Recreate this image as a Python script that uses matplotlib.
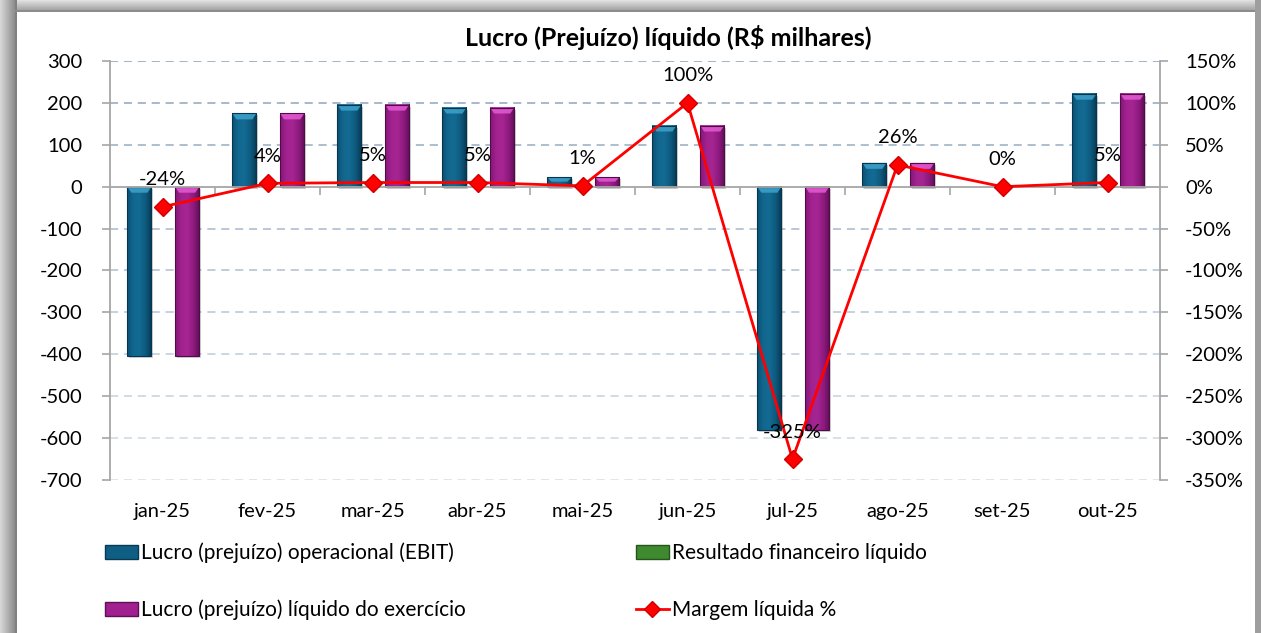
import numpy as np
import matplotlib
matplotlib.use("Agg")
import matplotlib.pyplot as plt
from matplotlib.colors import LinearSegmentedColormap, to_rgb
from matplotlib.patches import Patch, Polygon, Rectangle
from matplotlib.lines import Line2D
from matplotlib.ticker import PercentFormatter, MultipleLocator
import matplotlib.transforms as mtransforms

plt.rcParams['font.family'] = ['Lato', 'DejaVu Sans']
plt.rcParams['axes.unicode_minus'] = False

# --- dados (R$ milhares) ---
meses = ["jan-25", "fev-25", "mar-25", "abr-25", "mai-25",
         "jun-25", "jul-25", "ago-25", "set-25", "out-25"]
ebit = [-403, 175, 196, 189, 22, 146, -580, 57, 0, 222]
resultado_fin = [0, 0, 0, 0, 0, 0, 0, 0, 0, 0]
lucro_liq = [-403, 175, 196, 189, 22, 146, -580, 57, 0, 222]
margem = [-0.24, 0.04, 0.05, 0.05, 0.01, 1.00, -3.25, 0.26, 0.00, 0.05]

nomes = ["Lucro (prejuízo) operacional (EBIT)",
         "Resultado financeiro líquido",
         "Lucro (prejuízo) líquido do exercício",
         "Margem líquida %"]

W, H = 1261, 633
fig = plt.figure(figsize=(W / 100, H / 100), dpi=100)
fs = 14.5

# moldura cinza com sombra
bg = np.ones((H, W))
xs = np.arange(W)
ys = np.arange(H)
left = xs < 15
bg[:, left] = np.linspace(0.84, 0.56, left.sum())[None, :]
top = ys < 12
bg[top, 15:] = np.minimum(bg[top, 15:], np.linspace(0.88, 0.60, top.sum())[:, None])
bg[:, 1255:] = 0.62
bg[:, 15:17] = np.minimum(bg[:, 15:17], 0.50)
bg[10:12, 15:1255] = 0.55
ax_bg = fig.add_axes([0, 0, 1, 1], zorder=-10)
ax_bg.imshow(bg, cmap="gray", vmin=0, vmax=1, aspect="auto", interpolation="nearest")
ax_bg.axis("off")

ax = fig.add_axes([110 / W, 1 - 480 / H, 1050 / W, 419 / H])
ax.set_facecolor("none")
ax2 = ax.twinx()
ax2.set_zorder(ax.get_zorder() + 1)
ax2.patch.set_visible(False)

ylo, yhi = -700, 300
ax.set_xlim(-0.5, 9.5)
ax.set_ylim(ylo, yhi)
ax2.set_ylim(-3.5, 1.5)

# linhas de grade tracejadas, mais escuras em cima
c_top = np.array(to_rgb("#98aec4"))
c_bot = np.array(to_rgb("#dde3ea"))
for v in range(ylo, yhi + 1, 100):
    if v == 0:
        continue
    t = (yhi - v) / (yhi - ylo)
    ax.axhline(v, color=c_top * (1 - t) + c_bot * t, lw=1.3,
               dashes=(4.5, 3.2), zorder=0.5)

# barras com sombreado "cilíndrico"
px_y = (yhi - ylo) / 419.0
px_x = 10 / 1050.0
bw = 0.23
series = [
    (ebit, -0.22, ["#0b5173", "#12678f", "#136a93", "#0e5a7f", "#073a54"], "#3ea2cb", "#063550"),
    (resultado_fin, 0.0, ["#2c6b22", "#4a9a38", "#4fa03c", "#3f8a2e", "#24561c"], "#8fd07a", "#1f4d18"),
    (lucro_liq, 0.235, ["#841778", "#a2228f", "#a52592", "#901a80", "#5e0f55"], "#e45ad4", "#500c48"),
]
grad = np.linspace(0, 1, 64)[None, :]
for vals, off, cols, bevel, edge in series:
    cmap = LinearSegmentedColormap.from_list("bar", cols)
    for i, v in enumerate(vals):
        if v == 0:
            continue
        x0, x1 = i + off - bw / 2, i + off + bw / 2
        y0, y1 = min(0, v), max(0, v)
        # sombra
        ax.add_patch(Rectangle((x0 + 2 * px_x, y0 - 2 * px_y), bw, y1 - y0,
                               color="#000000", alpha=0.18, lw=0, zorder=1.5))
        ax.imshow(grad, cmap=cmap, extent=(x0, x1, y0, y1), aspect="auto",
                  interpolation="bilinear", zorder=2)
        bh = min(6 * px_y, (y1 - y0) * 0.45)
        dx = 4 * px_x
        ax.add_patch(Polygon([(x0, y1), (x1, y1), (x1 - dx, y1 - bh), (x0 + dx, y1 - bh)],
                             closed=True, facecolor=bevel, edgecolor="none", alpha=0.85, zorder=2.1))
        ax.add_patch(Rectangle((x0, y0), bw, y1 - y0, fill=False, edgecolor=edge,
                               lw=0.8, zorder=2.2))

ax.set_xlim(-0.5, 9.5)
ax.set_ylim(ylo, yhi)

# linha da margem
x = np.arange(len(meses))
ax2.plot(x, margem, color="#ff0000", lw=2.0, marker="D", markersize=9,
         markerfacecolor="#ff0000", markeredgecolor="#d00000", zorder=5)
for xi, m in zip(x, margem):
    ax2.annotate(f"{m:.0%}", (xi, m), xytext=(0, 27), textcoords="offset pixels",
                 ha="center", va="center", fontsize=fs, color="#000000", zorder=6)

# eixos
gray = "#a6a6a6"
for s in ["top"]:
    ax.spines[s].set_visible(False)
    ax2.spines[s].set_visible(False)
ax.spines["bottom"].set_position(("data", 0))
ax.spines["bottom"].set_color(gray)
ax.spines["left"].set_color(gray)
ax.spines["right"].set_visible(False)
ax2.spines["left"].set_visible(False)
ax2.spines["bottom"].set_visible(False)
ax2.spines["right"].set_color(gray)
for s in ["bottom", "left"]:
    ax.spines[s].set_linewidth(1.3)
ax2.spines["right"].set_linewidth(1.3)

ax.yaxis.set_major_locator(MultipleLocator(100))
ax.tick_params(axis="y", direction="out", length=6, width=1.2, color=gray,
               labelsize=fs, pad=14)
ax.set_xticks(np.arange(0.5, 9, 1))
ax.set_xticklabels([])
ax.tick_params(axis="x", direction="out", length=6, width=1.2, color=gray)

ax2.yaxis.set_major_locator(MultipleLocator(0.5))
ax2.yaxis.set_major_formatter(PercentFormatter(1.0, decimals=0))
ax2.tick_params(axis="y", direction="out", length=6, width=1.2, color=gray,
                labelsize=fs, pad=12)

trans = mtransforms.blended_transform_factory(ax.transData, ax.transAxes)
for i, m in enumerate(meses):
    ax.text(i, -0.076, m, transform=trans, ha="center", va="center", fontsize=fs)

fig.text(668 / W, 1 - 37 / H, "Lucro (Prejuízo) líquido (R$ milhares)",
         ha="center", va="center", fontsize=18, weight="bold")

# legenda em duas colunas
handles = [
    Patch(facecolor="#0f5f85", edgecolor="#073a54", label=nomes[0]),
    Patch(facecolor="#a02090", edgecolor="#5e0f55", label=nomes[2]),
    Patch(facecolor="#3f8a2e", edgecolor="#24561c", label=nomes[1]),
    Line2D([0], [0], color="#ff0000", lw=2.0, marker="D", markersize=8,
           markeredgecolor="#d00000", label=nomes[3]),
]
fig.legend(handles=handles, ncol=2, loc="upper left",
           bbox_to_anchor=(86 / W, 1 - 524 / H), frameon=False, fontsize=15,
           handlelength=1.6, handleheight=0.6, handletextpad=0.15,
           labelspacing=1.75, columnspacing=8.15)

fig.savefig("out.png", dpi=100)
